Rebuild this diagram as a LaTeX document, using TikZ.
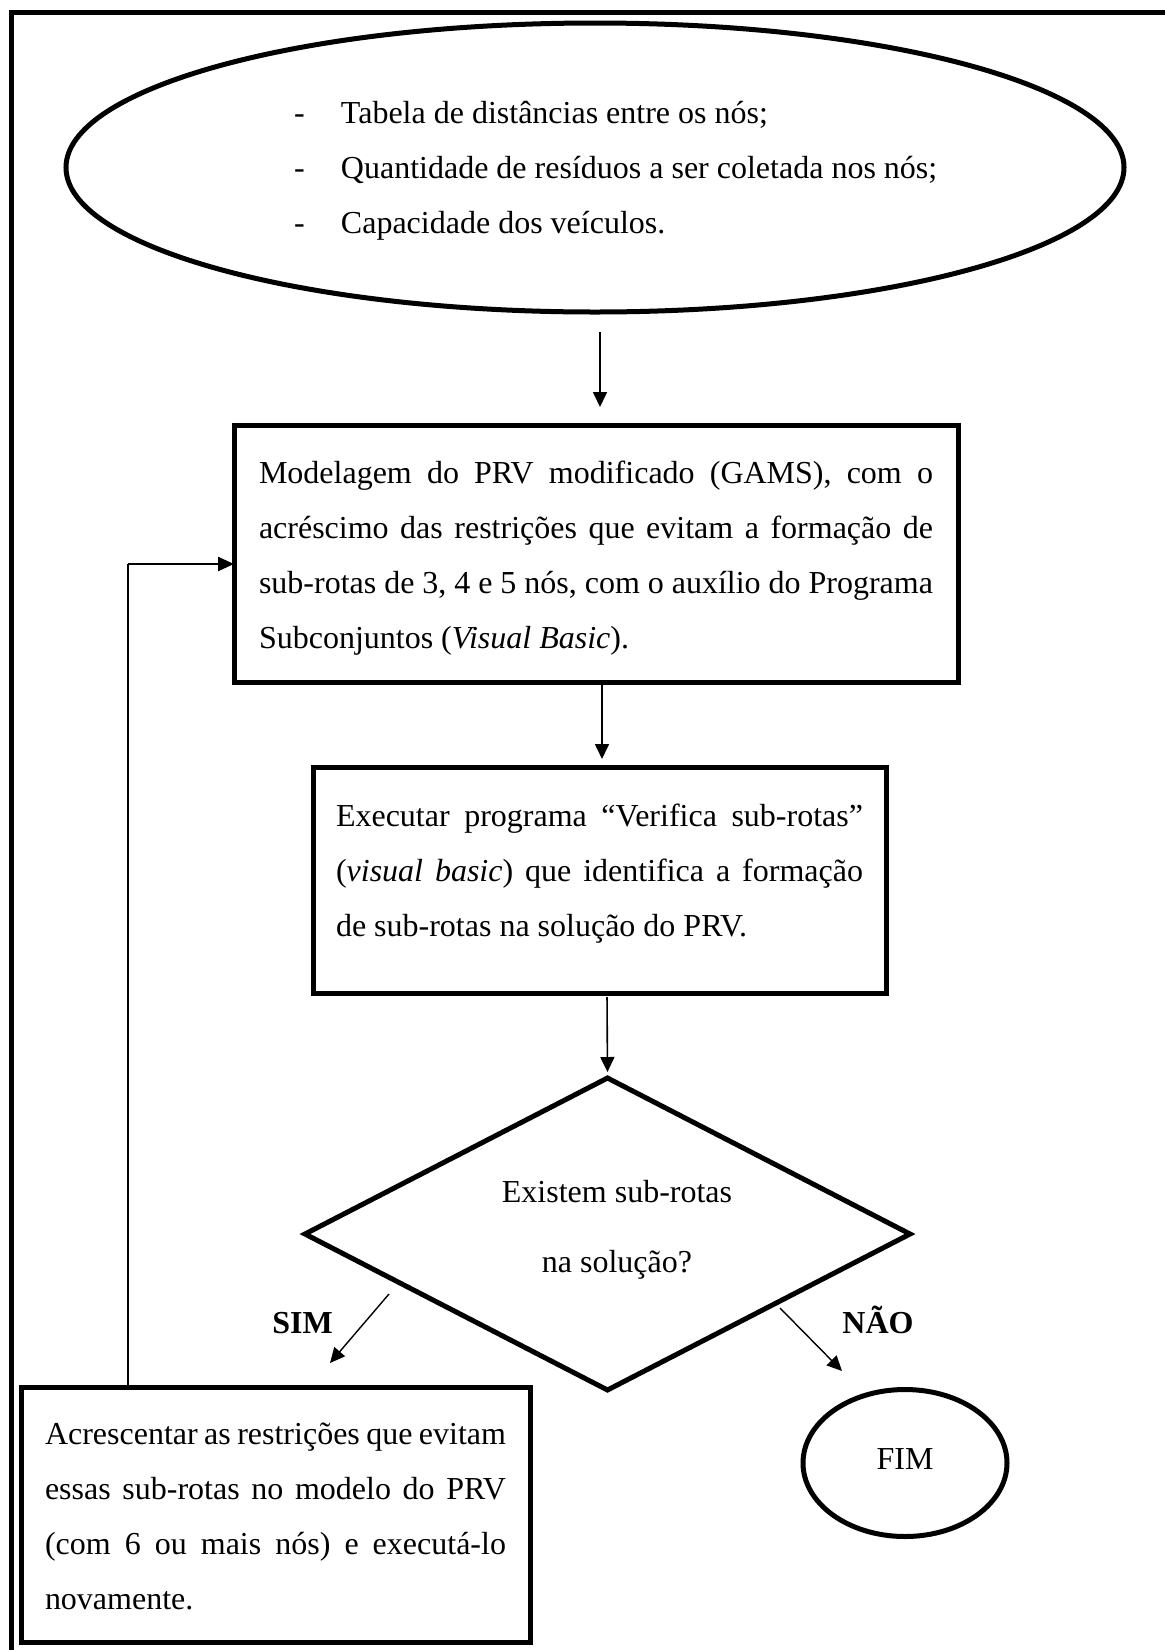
\documentclass[tikz,border=0pt]{standalone}
\usepackage{fontspec}
\setmainfont{Liberation Serif}
\usetikzlibrary{shapes.geometric,arrows.meta}

% a line stretched to a fixed width (justified line)
\newcommand\fillline[2]{\makebox[#1][s]{#2}}
% invisible struts that fix the space above the first / below the last line
\newcommand\topgap[1]{\rule{0pt}{#1}}
\newcommand\botgap[1]{\rule[-#1]{0pt}{#1}}
% bullet dash of the input list
\newcommand\listdash{\makebox[47pt][l]{-}}

\begin{document}
\begin{tikzpicture}[x=1pt,y=-1pt,
  every node/.style={font=\fontsize{32}{55}\selectfont, outer sep=0pt,
    % keep the font's own (stretchable) word spaces inside aligned nodes
    execute at begin node={\spaceskip=0pt\xspaceskip=0pt\relax}},
  stepbox/.style={draw, rectangle, line width=5pt, inner ysep=0pt, align=left, anchor=north west},
  conn/.style={line width=1.6pt, -{Triangle[length=15pt,width=14pt]}},
  label/.style={font=\fontsize{32}{40}\selectfont\bfseries, anchor=base, inner sep=0pt},
]
\useasboundingbox (0,0) rectangle (1165,1650);
\clip (0,0) rectangle (1165,1650);

% page frame (runs off the right and bottom edges)
\draw[line width=5pt, line join=miter] (11.7,1700) -- (11.7,12.5) -- (1200,12.5);

% input data
\node[draw, ellipse, line width=5pt, minimum width=1058pt, minimum height=289pt, inner sep=0pt]
  (inp) at (595,167.5) {};
\node[anchor=north west, inner sep=0pt, text width=760pt, align=left] (inptxt) at (294,90)
  {\topgap{33pt}\listdash Tabela de distâncias entre os nós;\\
   \listdash Quantidade de resíduos a ser coletada nos nós;\\
   \listdash Capacidade dos veículos.};

% model
\node[stepbox, text width=674pt, inner xsep=25pt] (box1) at (234,425)
  {\topgap{58pt}\fillline{674pt}{Modelagem do PRV modificado (GAMS), com o}\\
   \fillline{674pt}{acréscimo das restrições que evitam a formação de}\\
   \fillline{674pt}{sub-rotas de 3, 4 e 5 nós, com o auxílio do Programa}\\
   Subconjuntos (\textit{Visual Basic}).\botgap{34pt}};

% check program
\node[stepbox, text width=527pt, inner xsep=23pt] (box2) at (313,767)
  {\topgap{59pt}\fillline{527pt}{Executar programa “Verifica sub-rotas”}\\
   \fillline{527pt}{(\textit{visual basic}) que identifica a formação}\\
   de sub-rotas na solução do PRV.\botgap{57pt}};

% decision
\node[draw, diamond, line width=5pt, minimum width=605pt, minimum height=312pt, inner sep=0pt]
  (dec) at (607.5,1234) {};
\node[anchor=north, inner sep=0pt, text width=320pt, align=center,
      font=\fontsize{32}{70}\selectfont] (dectxt) at (617,1172)
  {\topgap{30pt}\mbox{Existem sub-rotas}\\\mbox{na solução?}};

% add constraints
\node[stepbox, text width=461pt, inner xsep=24pt] (box3) at (21,1387)
  {\topgap{57pt}\fillline{461pt}{Acrescentar as restrições que evitam}\\
   \fillline{461pt}{essas sub-rotas no modelo do PRV}\\
   \fillline{461pt}{(com 6 ou mais nós) e executá-lo}\\
   novamente.\botgap{33pt}};

% end
\node[draw, ellipse, line width=5pt, minimum width=204pt, minimum height=147pt, inner sep=0pt,
      text height=21pt, text depth=9pt] (fim) at (905,1463) {FIM};

% branch labels
\node[label] (sim) at (302.5,1333) {SIM};
\node[label] (nao) at (878,1333) {NÃO};

% main flow
\draw[conn, shorten <=20pt, shorten >=18pt]
  ([xshift=5pt]inp.south) -- ([xshift=5pt]inp.south |- box1.north);
\draw[conn, shorten <=1pt, shorten >=8pt]
  ([xshift=6pt]box1.south) -- ([xshift=6pt]box1.south |- box2.north);
\draw[conn, shorten <=4pt, shorten >=6pt]
  ([xshift=-0.5pt]box2.south -| dec.north) -- (dec.north);

% branches
\coordinate (simS) at (389,1294);
\coordinate (simE) at (330,1363);
\coordinate (naoS) at (780,1308);
\coordinate (naoE) at (842,1371);
\draw[conn, line width=1.4pt] (simS) -- (simE);
\draw[conn, line width=1.4pt] (naoS) -- (naoE);

% loop back to the model
\coordinate (fb) at (128,564);
\draw[line width=1.3pt] (box3.north -| fb) -- (fb);
\draw[line width=2.5pt, -{Triangle[length=16pt,width=14pt]}] (fb) -- (fb -| box1.west);
\end{tikzpicture}
\end{document}
